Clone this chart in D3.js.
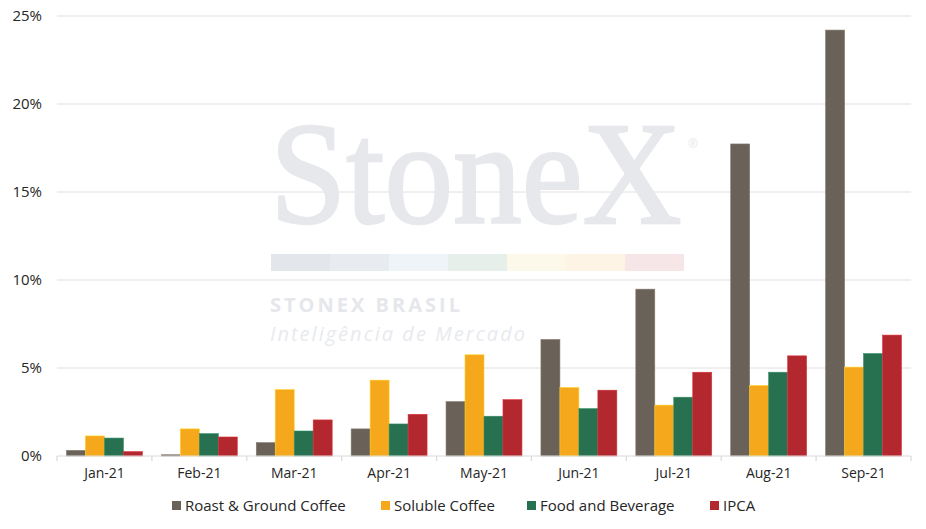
<!DOCTYPE html>
<meta charset="utf-8">
<style>
    body { margin: 0; background: #fff; }
    text { font-family: "Open Sans", "Lato", sans-serif; }
    .axis .domain { display: none; }
</style>
<body>
<script src="https://d3js.org/d3.v7.min.js"></script>
<script>
    // data (monthly accumulated change, %)
    var months = ["Jan-21", "Feb-21", "Mar-21", "Apr-21", "May-21", "Jun-21", "Jul-21", "Aug-21", "Sep-21"];
    var seriesNames = ["Roast & Ground Coffee", "Soluble Coffee", "Food and Beverage", "IPCA"];
    var roastGround = [0.32, 0.07, 0.76, 1.54, 3.09, 6.62, 9.48, 17.73, 24.2];
    var soluble     = [1.14, 1.54, 3.77, 4.31, 5.75, 3.89, 2.89, 4.0, 5.05];
    var foodBev     = [1.02, 1.27, 1.42, 1.82, 2.26, 2.69, 3.34, 4.76, 5.82];
    var ipca        = [0.25, 1.08, 2.05, 2.37, 3.2, 3.74, 4.76, 5.69, 6.87];
    var yTicks = [0, 5, 10, 15, 20, 25];
    var colors = ["#6a6158", "#f5a81c", "#277151", "#b2282e"];

    var width = 926, height = 529;
    var margin = {top: 16, right: 15, bottom: 73, left: 57};
    var w = width - margin.left - margin.right,
        h = height - margin.top - margin.bottom;

    var svg = d3.select("body").append("svg")
        .attr("width", width)
        .attr("height", height);

    var table = months.map(function(m, i) {
        return {month: m, values: [roastGround[i], soluble[i], foodBev[i], ipca[i]]};
    });

    var x0 = d3.scaleBand().domain(months).range([0, w]).paddingInner(0.2).paddingOuter(0.1);
    var x1 = d3.scaleBand().domain(d3.range(seriesNames.length)).range([0, x0.bandwidth()]);
    var y = d3.scaleLinear().domain([0, 25]).range([h, 0]);

    var g = svg.append("g").attr("transform", "translate(" + margin.left + "," + margin.top + ")");

    // watermark
    var wm = svg.append("g").attr("class", "watermark");
    wm.append("text")
        .attr("transform", "translate(270,223) scale(0.94,1)")
        .style("font-family", "'Liberation Serif', serif")
        .attr("font-size", 146)
        .attr("fill", "#e6e8ec")
        .attr("stroke", "#e6e8ec")
        .attr("stroke-width", 2.5)
        .text("StoneX");
    wm.append("text")
        .attr("x", 688).attr("y", 148)
        .attr("font-size", 12)
        .attr("fill", "#e6e8ec")
        .text("®");
    var bandColors = ["#e3e6ea", "#e8ebef", "#eff4f8", "#e6efea", "#fdf9ea", "#fdf4e6", "#f7e6e7"];
    wm.selectAll("rect").data(bandColors).enter().append("rect")
        .attr("x", function(d, i) { return 271 + i * 59; })
        .attr("y", 254)
        .attr("width", 59)
        .attr("height", 17)
        .attr("fill", function(d) { return d; });
    wm.append("text")
        .attr("x", 270).attr("y", 312)
        .attr("font-size", 20)
        .attr("font-weight", "bold")
        .attr("textLength", 190)
        .attr("fill", "#e5e7eb")
        .text("STONEX BRASIL");
    wm.append("text")
        .attr("x", 270).attr("y", 341)
        .attr("font-size", 20)
        .attr("font-style", "italic")
        .attr("textLength", 255)
        .attr("fill", "#e8eaee")
        .text("Inteligência de Mercado");

    // gridlines
    g.append("g")
        .selectAll("line")
        .data(yTicks.slice(1))
        .enter().append("line")
        .attr("x1", 0).attr("x2", w)
        .attr("y1", function(d) { return y(d); })
        .attr("y2", function(d) { return y(d); })
        .attr("stroke", "#e2dede")
        .attr("stroke-width", 1);

    // y axis labels
    g.append("g")
        .attr("class", "axis")
        .call(d3.axisLeft(y).tickValues(yTicks).tickSize(0).tickPadding(15)
            .tickFormat(function(d) { return d + "%"; }))
        .selectAll("text")
        .attr("font-size", 15)
        .attr("fill", "#262626")
        .style("font-family", "'Open Sans', sans-serif");

    // bars
    g.append("g")
        .selectAll("g")
        .data(table)
        .enter().append("g")
        .attr("transform", function(d) { return "translate(" + x0(d.month) + ",0)"; })
        .selectAll("rect")
        .data(function(d) { return d.values; })
        .enter().append("rect")
        .attr("x", function(d, i) { return x1(i); })
        .attr("y", function(d) { return y(d); })
        .attr("width", x1.bandwidth())
        .attr("height", function(d) { return y(0) - y(d); })
        .attr("fill", function(d, i) { return colors[i]; })
        .attr("stroke", function(d, i) { return d3.color(colors[i]).brighter(0.6); })
        .attr("stroke-width", 0.6);

    // x axis baseline with tick marks at category boundaries
    g.append("line")
        .attr("x1", 0).attr("x2", w)
        .attr("y1", y(0)).attr("y2", y(0))
        .attr("stroke", "#d9d9d9")
        .attr("stroke-width", 1.2);
    var bounds = months.map(function(m) { return x0(m) - x0.step() * x0.paddingInner() / 2; });
    bounds.push(w);
    g.append("g")
        .selectAll("line")
        .data(bounds)
        .enter().append("line")
        .attr("x1", function(d) { return d; })
        .attr("x2", function(d) { return d; })
        .attr("y1", y(0)).attr("y2", y(0) + 5)
        .attr("stroke", "#d9d9d9")
        .attr("stroke-width", 1.2);

    g.append("g")
        .attr("class", "axis")
        .attr("transform", "translate(0," + h + ")")
        .call(d3.axisBottom(x0).tickSize(0).tickPadding(12))
        .selectAll("text")
        .attr("font-size", 14)
        .attr("fill", "#262626")
        .style("font-family", "'Open Sans', sans-serif");

    // legend
    var legendX = [172, 381, 527, 710];
    var legend = svg.append("g")
        .selectAll("g")
        .data(seriesNames)
        .enter().append("g")
        .attr("transform", function(d, i) { return "translate(" + legendX[i] + ",501)"; });
    legend.append("rect")
        .attr("width", 9).attr("height", 9)
        .attr("fill", function(d, i) { return colors[i]; });
    legend.append("text")
        .attr("x", 13).attr("y", 4.5)
        .attr("dy", "0.35em")
        .attr("font-size", 15)
        .attr("fill", "#262626")
        .text(function(d) { return d; });
</script>
</body>
